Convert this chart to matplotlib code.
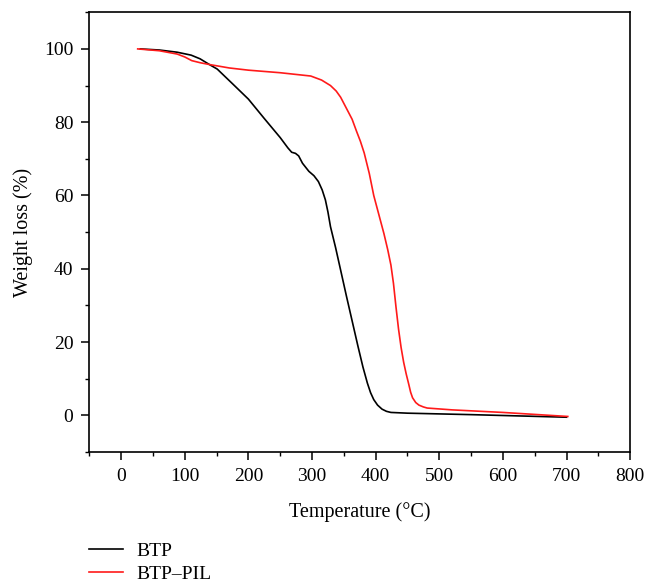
import matplotlib
matplotlib.use("Agg")
import matplotlib.pyplot as plt
from matplotlib.ticker import MultipleLocator

plt.rcParams['font.family'] = ['Liberation Serif', 'DejaVu Serif']

btp_T = [30, 60, 88, 110, 124, 140, 151, 175, 200, 225, 250, 262, 268, 274, 279, 285, 295, 303, 310, 316, 321, 325, 329, 337, 345, 354, 363, 372, 380, 387, 392, 397, 403, 410, 417, 424, 450, 550, 700]
btp_W = [100, 99.7, 99.1, 98.3, 97.3, 95.6, 94.5, 90.5, 86.3, 81.0, 75.8, 73.0, 71.8, 71.5, 70.8, 68.8, 66.6, 65.4, 63.8, 61.5, 58.8, 55.5, 51.5, 45.8, 39.6, 32.6, 25.8, 19.0, 13.2, 8.8, 6.2, 4.3, 2.8, 1.7, 1.1, 0.8, 0.6, 0.2, -0.5]

pil_T = [26, 60, 88, 100, 111, 125, 140, 170, 200, 250, 298, 315, 329, 338, 345, 351, 357, 363, 370, 376, 382, 390, 397, 405, 413, 419, 424, 428, 432, 436, 440, 444, 448, 452, 455, 458, 463, 468, 475, 481, 520, 600, 702]
pil_W = [100, 99.5, 98.6, 97.8, 96.8, 96.2, 95.7, 94.8, 94.2, 93.5, 92.6, 91.5, 90.0, 88.5, 86.8, 84.8, 82.8, 80.8, 77.5, 74.8, 71.6, 66.0, 60.0, 54.8, 49.6, 45.2, 41.0, 36.0, 29.5, 23.5, 18.5, 14.5, 11.3, 8.5, 6.3, 4.8, 3.5, 2.8, 2.3, 2.0, 1.5, 0.8, -0.3]

fig = plt.figure(figsize=(6.45, 5.84), dpi=100)
ax = fig.add_axes([0.1385, 0.226, 0.8385, 0.753])

l1, = ax.plot(btp_T, btp_W, color='black', lw=1.2, label='BTP')
l2, = ax.plot(pil_T, pil_W, color='#ff1a1a', lw=1.2, label='BTP\u2013PIL')

ax.set_xlim(-50, 800)
ax.set_ylim(-10, 110)
ax.xaxis.set_major_locator(MultipleLocator(100))
ax.xaxis.set_minor_locator(MultipleLocator(50))
ax.yaxis.set_major_locator(MultipleLocator(20))
ax.yaxis.set_minor_locator(MultipleLocator(10))
ax.tick_params(which='major', direction='out', length=5.5, width=1.1, labelsize=14, pad=6)
ax.tick_params(which='minor', direction='out', length=3, width=1.0)
for s in ax.spines.values():
    s.set_linewidth(1.2)

ax.set_xlabel('Temperature (°C)', fontsize=14.5, labelpad=12)
ax.set_ylabel('Weight loss (%)', fontsize=14.5, labelpad=8)

fig.legend(handles=[l1, l2], loc='upper left', bbox_to_anchor=(0.126, 0.085),
           frameon=False, fontsize=14, handlelength=1.75, handletextpad=0.7,
           labelspacing=0.3, borderaxespad=0)

fig.savefig('out.png', dpi=100)
